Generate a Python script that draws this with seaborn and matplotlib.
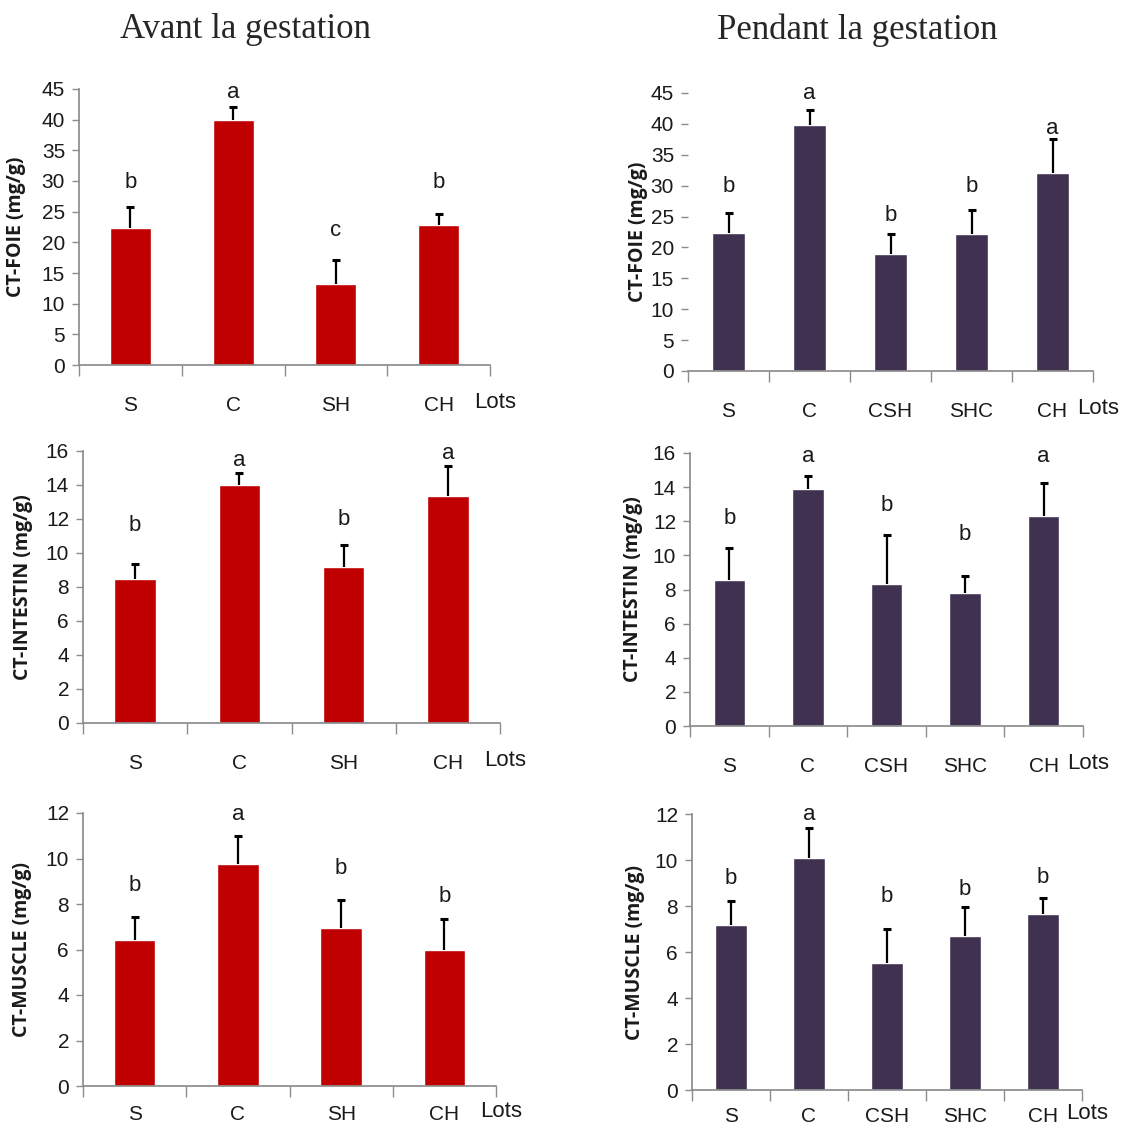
import numpy as np
import pandas as pd
import matplotlib
matplotlib.use("Agg")
import matplotlib.pyplot as plt
import seaborn as sns

# ---- data ----
lots_avant = ["S", "C", "SH", "CH"]
lots_pendant = ["S", "C", "CSH", "SHC", "CH"]

foie_avant = [22.3, 40.0, 13.2, 22.8]
foie_avant_err = [3.4, 2.1, 4.0, 1.8]
foie_avant_lettres = ["b", "a", "c", "b"]

foie_pendant = [22.4, 39.8, 19.0, 22.1, 32.0]
foie_pendant_err = [3.1, 2.4, 3.2, 3.9, 5.5]
foie_pendant_lettres = ["b", "a", "b", "b", "a"]

intestin_avant = [8.45, 14.0, 9.2, 13.35]
intestin_avant_err = [0.92, 0.69, 1.25, 1.75]
intestin_avant_lettres = ["b", "a", "b", "a"]

intestin_pendant = [8.53, 13.91, 8.35, 7.82, 12.33]
intestin_pendant_err = [1.89, 0.72, 2.85, 0.96, 1.93]
intestin_pendant_lettres = ["b", "a", "b", "b", "a"]

muscle_avant = [6.4, 9.75, 6.94, 6.0]
muscle_avant_err = [1.05, 1.23, 1.24, 1.35]
muscle_avant_lettres = ["b", "a", "b", "b"]

muscle_pendant = [7.17, 10.09, 5.51, 6.70, 7.65]
muscle_pendant_err = [1.05, 1.29, 1.50, 1.26, 0.71]
muscle_pendant_lettres = ["b", "a", "b", "b", "b"]

# heights (data units) where the significance letters sit
foie_avant_lettre_y = [29.7, 44.5, 22.0, 29.7]
foie_pendant_lettre_y = [29.8, 44.9, 25.2, 29.8, 39.2]
intestin_avant_lettre_y = [11.6, 15.45, 11.96, 15.84]
intestin_pendant_lettre_y = [12.16, 15.8, 12.94, 11.24, 15.77]
muscle_avant_lettre_y = [8.8, 11.94, 9.56, 8.34]
muscle_pendant_lettre_y = [9.2, 12.0, 8.4, 8.7, 9.25]

# ---- style ----
sns.set_theme(style="white")
plt.rcParams["font.family"] = ["Liberation Sans", "DejaVu Sans"]

ROUGE = "#C00000"
VIOLET = "#403151"
AXE_GRIS = "#8C8C8C"
TEXTE = "#1a1a1a"

W, H = 1143, 1133
fig = plt.figure(figsize=(W / 100, H / 100), dpi=100)


def rect(l, r, t, b):
    return [l / W, 1 - b / H, (r - l) / W, (b - t) / H]


def panneau(box, lots, vals, errs, lettres, lettre_y, couleur, ymax, ystep,
            ylabel, label_x, show_left=True, xpad=22):
    ax = fig.add_axes(rect(*box))
    df = pd.DataFrame({"lot": lots, "val": vals})
    sns.barplot(data=df, x="lot", y="val", color=couleur, saturation=1,
                width=0.4, errorbar=None, ax=ax, order=lots)
    n = len(lots)
    _, caps, _ = ax.errorbar(np.arange(n), vals, yerr=[np.zeros(n), errs],
                             fmt="none", ecolor="black", elinewidth=1.6,
                             capsize=3.2, capthick=2.2, zorder=3)
    # keep only the upper caps
    for cap in caps:
        if np.allclose(cap.get_ydata(), vals):
            cap.set_visible(False)
    for i, (lt, ly) in enumerate(zip(lettres, lettre_y)):
        ax.text(i, ly, lt, ha="center", va="center", fontsize=16, color=TEXTE)
    ax.set_xlim(-0.5, n - 0.5)
    ax.set_ylim(0, ymax)
    ticks = np.arange(0, ymax + 0.01, ystep)
    ax.set_yticks(ticks)
    ax.set_yticklabels([f"{v:g}" for v in ticks])
    ax.set_xticks(np.arange(n))
    ax.set_xticklabels(lots)
    ax.set_xticks(np.arange(-0.5, n, 1.0), minor=True)
    ax.tick_params(axis="x", which="major", length=0, pad=xpad, labelsize=15,
                   colors=TEXTE)
    ax.tick_params(axis="x", which="minor", length=8, width=1,
                   color=AXE_GRIS, direction="out", bottom=True)
    ax.tick_params(axis="y", length=5, width=1, color=AXE_GRIS,
                   direction="out", left=True, labelsize=15, colors=TEXTE,
                   pad=5)
    for s in ("top", "right"):
        ax.spines[s].set_visible(False)
    ax.spines["bottom"].set_color(AXE_GRIS)
    ax.spines["left"].set_color(AXE_GRIS)
    ax.spines["left"].set_visible(show_left)
    ax.set_xlabel("")
    ax.set_ylabel(ylabel, fontsize=14, fontweight="bold",
                  family=["Open Sans", "DejaVu Sans"], color=TEXTE)
    ax.yaxis.set_label_coords(label_x, 0.5)
    ax.annotate("Lots", xy=(1, 0), xycoords="axes fraction",
                xytext=(5, -(xpad * 1.39 + 6.5)), textcoords="offset pixels",
                ha="center", va="center", fontsize=16, color=TEXTE)
    ax.set_facecolor("white")
    return ax


panneau((79, 490, 89, 365), lots_avant, foie_avant, foie_avant_err,
        foie_avant_lettres, foie_avant_lettre_y, ROUGE, 45, 5,
        "CT-FOIE (mg/g)", -0.129)
panneau((688, 1093, 93, 371), lots_pendant, foie_pendant, foie_pendant_err,
        foie_pendant_lettres, foie_pendant_lettre_y, VIOLET, 45, 5,
        "CT-FOIE (mg/g)", -0.099, show_left=False)
panneau((83, 500, 451, 723), lots_avant, intestin_avant, intestin_avant_err,
        intestin_avant_lettres, intestin_avant_lettre_y, ROUGE, 16, 2,
        "CT-INTESTIN (mg/g)", -0.12)
panneau((690, 1083, 453, 726), lots_pendant, intestin_pendant,
        intestin_pendant_err, intestin_pendant_lettres,
        intestin_pendant_lettre_y, VIOLET, 16, 2,
        "CT-INTESTIN (mg/g)", -0.12)
panneau((83, 496, 813, 1086), lots_avant, muscle_avant, muscle_avant_err,
        muscle_avant_lettres, muscle_avant_lettre_y, ROUGE, 12, 2,
        "CT-MUSCLE (mg/g)", -0.123, xpad=14)
panneau((692, 1082, 814, 1090), lots_pendant, muscle_pendant,
        muscle_pendant_err, muscle_pendant_lettres, muscle_pendant_lettre_y,
        VIOLET, 12, 2, "CT-MUSCLE (mg/g)", -0.12, xpad=12)

fig.text(245 / W, 1 - 30 / H, "Avant la gestation", ha="center", va="center",
         fontsize=25, family=["Liberation Serif", "DejaVu Serif"])
fig.text(857 / W, 1 - 30 / H, "Pendant la gestation", ha="center",
         va="center", fontsize=25, family=["Liberation Serif", "DejaVu Serif"])

fig.savefig("out.png", dpi=100, facecolor="white")
